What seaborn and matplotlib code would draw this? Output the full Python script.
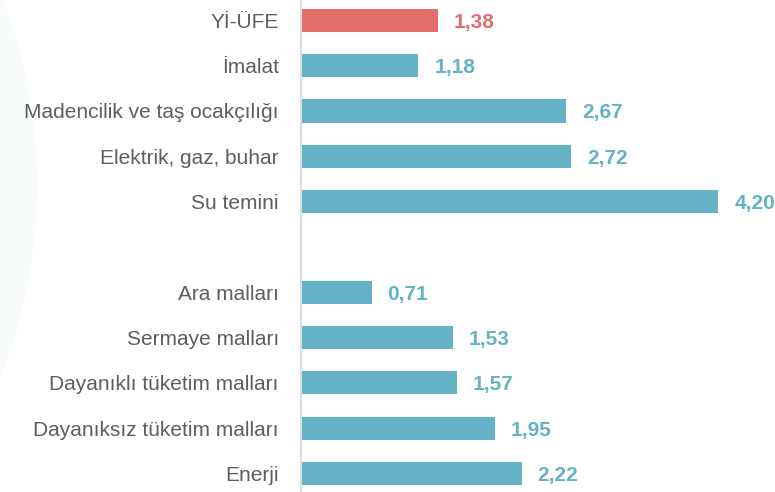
import pandas as pd
import matplotlib.pyplot as plt
import seaborn as sns
from matplotlib.patches import Ellipse

# values (monthly change, %)
kategoriler = ["Yİ-ÜFE", "İmalat", "Madencilik ve taş ocakçılığı", "Elektrik, gaz, buhar",
               "Su temini", "Ara malları", "Sermaye malları", "Dayanıklı tüketim malları",
               "Dayanıksız tüketim malları", "Enerji"]
degerler = [1.38, 1.18, 2.67, 2.72, 4.20, 0.71, 1.53, 1.57, 1.95, 2.22]
gruplar = ["genel", "sektor", "sektor", "sektor", "sektor",
           "mal", "mal", "mal", "mal", "mal"]

renkler = {"genel": "#E46D6C", "sektor": "#63B2C6", "mal": "#63B2C6"}

# empty slot between the two groups
sira = kategoriler[:5] + [" "] + kategoriler[5:]

df = pd.DataFrame({"kategori": kategoriler, "deger": degerler, "grup": gruplar})

sns.set_style("white")
plt.rcParams["font.family"] = ["Liberation Sans", "DejaVu Sans"]

fig = plt.figure(figsize=(7.75, 4.92), dpi=100)

# faint background circle on the left
fig.patches.append(Ellipse((-483 / 775, 1 - 185 / 492), 2 * 520 / 775, 2 * 520 / 492,
                           transform=fig.transFigure, facecolor="#F7FBFC",
                           edgecolor="none", zorder=-1))

ax = fig.add_axes([301 / 775, 0, 1 - 301 / 775, 1])
ax.set_facecolor("none")

sns.barplot(data=df, y="kategori", x="deger", hue="grup", order=sira,
            palette=renkler, dodge=False, width=0.51, legend=False, ax=ax,
            saturation=1, edgecolor="none")

for i, row in df.iterrows():
    y = sira.index(row["kategori"])
    ax.annotate(f"{row['deger']:.2f}".replace(".", ","), xy=(row["deger"], y),
                xytext=(11.5, -5.4), textcoords="offset points", va="baseline", ha="left",
                fontsize=15, fontweight="bold", color=renkler[row["grup"]])

ax.set_xlim(0, 4.77)
ax.set_ylim(10.41, -0.45)
ax.set_xlabel("")
ax.set_ylabel("")
ax.set_xticks([])
ax.tick_params(axis="y", length=0, pad=16, labelsize=15, labelcolor="#5E5E5E")

for s in ["top", "right", "bottom"]:
    ax.spines[s].set_visible(False)
ax.spines["left"].set_color("#DCDCDC")
ax.spines["left"].set_linewidth(1.5)

fig.savefig("out.png", dpi=100)
